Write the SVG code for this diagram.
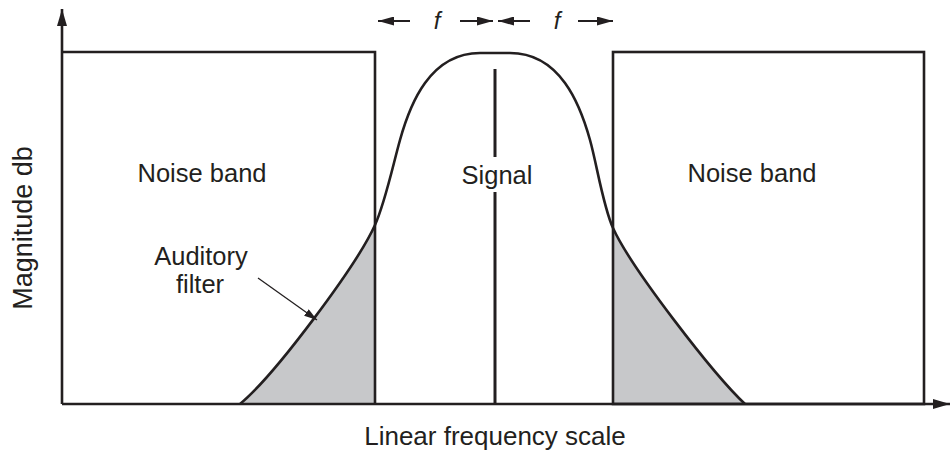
<svg xmlns="http://www.w3.org/2000/svg" width="950" height="452" viewBox="0 0 950 452">
<style>
.ln{fill:none;stroke:#231f20;stroke-width:2.6}
.thin{fill:none;stroke:#231f20;stroke-width:2}
.shade{fill:#c7c8ca;stroke:none}
.t{font-family:"Liberation Sans",Arial,sans-serif;font-size:25.5px;fill:#231f20;text-anchor:middle}
.fi{font-family:"Liberation Sans",Arial,sans-serif;font-size:24px;font-style:italic;fill:#231f20;text-anchor:middle}
</style>
<defs>
<marker id="ah" viewBox="0 0 16 9" refX="16" refY="4.5" markerWidth="16" markerHeight="9" markerUnits="userSpaceOnUse" orient="auto">
<path d="M0,0 L16,4.5 L0,9 Z" fill="#231f20"/>
</marker>
<marker id="ahs" viewBox="0 0 13 8" refX="13" refY="4" markerWidth="13" markerHeight="8" markerUnits="userSpaceOnUse" orient="auto">
<path d="M0,0 L13,4 L0,8 Z" fill="#231f20"/>
</marker>
<marker id="axh" viewBox="0 0 17 10" refX="17" refY="5" markerWidth="17" markerHeight="10" markerUnits="userSpaceOnUse" orient="auto">
<path d="M0,0 L17,5 L0,10 Z" fill="#231f20"/>
</marker>
</defs>
<g id="shading">
<path class="shade" d="M240,404 C275,375 357,265 375,225 L375,404 Z"/>
<path class="shade" d="M613,228 C631,268 714,375 745,404 L613,404 Z"/>
</g>
<g id="noise-left">
<path class="ln" d="M62,52 H375 V404"/>
<text class="t" x="202" y="182">Noise band</text>
</g>
<g id="noise-right">
<rect class="ln" x="613" y="52" width="311" height="352"/>
<text class="t" x="752" y="182">Noise band</text>
</g>
<g id="signal">
<path class="ln" d="M495,69 V157 M495,192 V404" style="stroke-width:3"/>
<text class="t" x="497" y="184">Signal</text>
</g>
<g id="filter">
<path class="ln" d="M240,404 C275,375 357,265 375,225 C385,203 393,165 400,140 C410,104 430,53 480,53 L510,53 C560,53 580,104 590,140 C597,165 603,206 613,228 C631,268 714,375 745,404"/>
<text class="t" x="201" y="265">Auditory</text>
<text class="t" x="200" y="293">filter</text>
</g>
<g id="axes">
<line class="ln" x1="62" y1="404" x2="62" y2="9" marker-end="url(#axh)"/>
<line class="ln" x1="62" y1="404" x2="950" y2="404" marker-end="url(#axh)"/>
<text class="t" x="495" y="445" style="font-size:26px">Linear frequency scale</text>
<text class="t" transform="translate(32,228) rotate(-90)" x="0" y="0" style="font-size:27px">Magnitude db</text>
</g>
<g id="connectors">
<line x1="258" y1="278" x2="317" y2="320" stroke="#231f20" stroke-width="1.3" marker-end="url(#ahs)"/>
<line class="thin" x1="410" y1="21" x2="378" y2="21" marker-end="url(#ah)"/>
<line class="thin" x1="460" y1="21" x2="493" y2="21" marker-end="url(#ah)"/>
<line class="thin" x1="530" y1="21" x2="498" y2="21" marker-end="url(#ah)"/>
<line class="thin" x1="578" y1="21" x2="613" y2="21" marker-end="url(#ah)"/>
<text class="fi" x="437" y="29">f</text>
<text class="fi" x="557" y="29">f</text>
</g>
</svg>
